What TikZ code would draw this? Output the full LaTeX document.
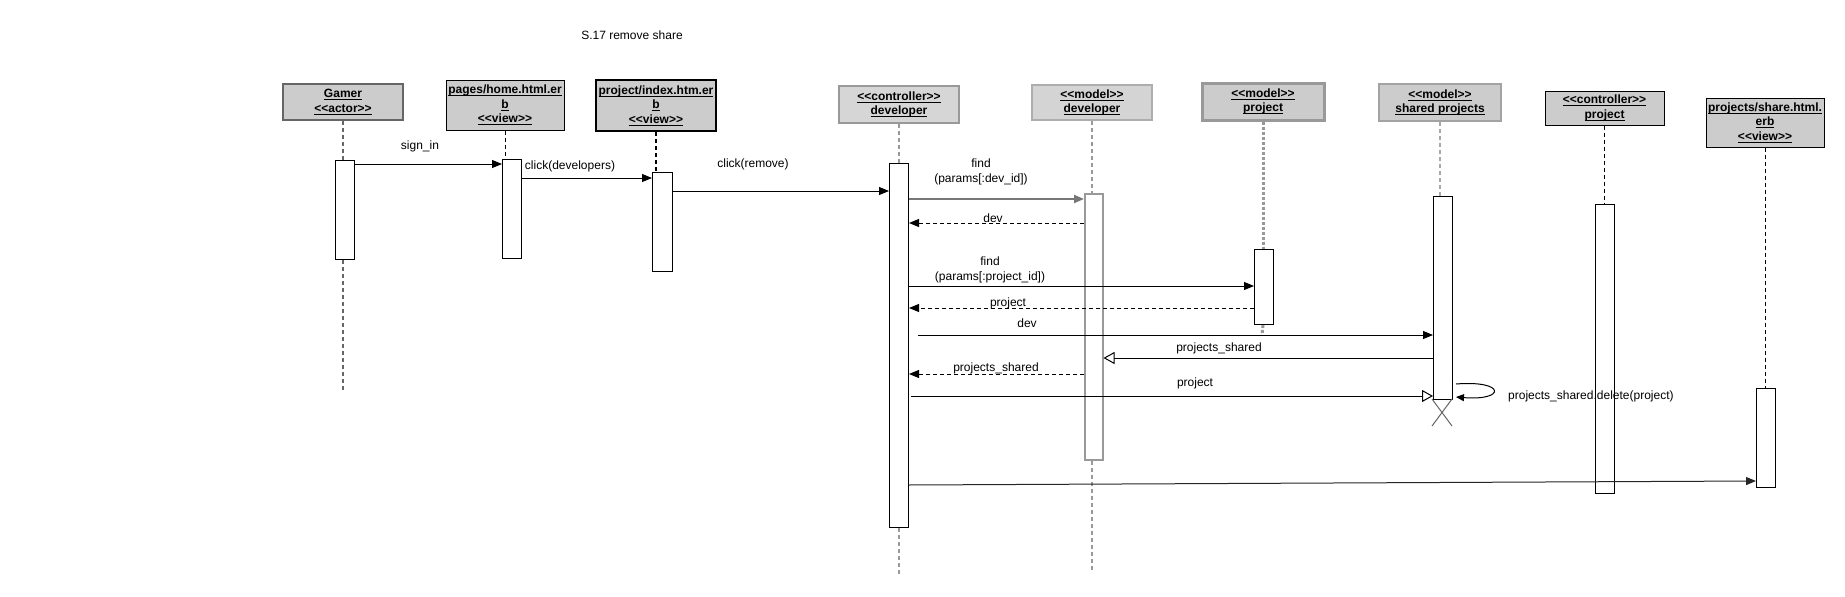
\documentclass[tikz,border=0pt]{standalone}
\usepackage{fontspec}
\setmainfont{Liberation Sans}
\usetikzlibrary{arrows.meta}
\newcommand\ulx[1]{\setbox0\hbox{#1}\rlap{\rule[-2pt]{\wd0}{0.8pt}}\box0}
\newcommand\llg{<\kern0pt<}
\newcommand\rrg{>\kern0pt>}
\definecolor{headgray}{HTML}{CCCCCC}
\definecolor{midgray}{HTML}{999999}
\definecolor{darkgray2}{HTML}{666666}
\definecolor{arrgray}{HTML}{777777}
\begin{document}
\begin{tikzpicture}[x=1pt,y=-1pt,
  every node/.style={font=\fontsize{12}{14.5}\selectfont},
  head/.style={draw, fill=headgray, inner sep=0pt, align=center, font=\fontsize{12}{14.5}\selectfont\bfseries},
  act/.style={draw, fill=white, inner sep=0pt, minimum width=19pt, anchor=north west, line width=1pt},
  life/.style={dash pattern=on 4pt off 3pt, line width=1pt},
  msg/.style={-{Triangle[length=10pt,width=8pt]}, line width=1pt},
  ret/.style={msg, dash pattern=on 4pt off 3pt},
  opn/.style={-{Triangle[open,length=11pt,width=12pt,fill=white]}, line width=1pt},
  lbl/.style={inner sep=1pt}
]
\fill[white] (0,0) rectangle (1845,597);
\useasboundingbox (0,0) rectangle (1845,597);

\node[lbl] (title) at (632,35) {S.17 remove share};

% heads
\node[head, minimum width=120pt, minimum height=36pt, draw=darkgray2, line width=2pt] (gamer) at (343,102) {\ulx{Gamer}\\\ulx{\llg actor\rrg}};
\node[head, minimum width=118pt, minimum height=50pt, line width=1pt] (pages) at (505,105) {\ulx{pages/home.html.er}\\\ulx{b}\\\ulx{\llg view\rrg}};
\node[head, minimum width=120pt, minimum height=51pt, line width=2pt] (projidx) at (656,105.5) {\ulx{project/index.htm.er}\\\ulx{b}\\\ulx{\llg view\rrg}};
\node[head, minimum width=120pt, minimum height=37pt, draw=midgray, fill=headgray!80, line width=1.5pt] (cdev) at (899,104.5) {\ulx{\llg controller\rrg}\\\ulx{developer}};
\node[head, minimum width=120pt, minimum height=35pt, draw=midgray!80, fill=headgray!85, line width=2pt] (mdev) at (1092,102.5) {\ulx{\llg model\rrg}\\\ulx{developer}};
\node[head, minimum width=122pt, minimum height=37pt, draw=midgray, line width=3pt] (mproj) at (1263,101.5) {\ulx{\llg model\rrg}\\\ulx{project}};
\node[head, minimum width=122pt, minimum height=37pt, draw=midgray!90, line width=2pt] (mshared) at (1440,102.5) {\ulx{\llg model\rrg}\\\ulx{shared projects}};
\node[head, minimum width=119pt, minimum height=34pt, line width=1pt] (cproj) at (1604.5,108) {\ulx{\llg controller\rrg}\\\ulx{project}};
\node[head, minimum width=118pt, minimum height=49pt, line width=1pt] (share) at (1765,122.5) {\ulx{projects/share.html.}\\\ulx{erb}\\\ulx{\llg view\rrg}};

% activations
\node[act, minimum height=99pt] (gact) at (335,160) {};
\node[act, minimum height=99pt] (pact) at (502,159) {};
\node[act, minimum width=20pt, minimum height=99pt] (iact) at (652,172) {};
\node[act, minimum height=364pt] (cdact) at (889,163) {};
\node[act, minimum width=18pt, minimum height=266pt, draw=midgray, line width=1.5pt] (mdact) at (1084,193) {};
\node[act, minimum height=75pt] (mpact) at (1254,249) {};
\node[act, minimum height=203pt] (shact) at (1433,196) {};
\node[act, minimum height=289pt] (cpact) at (1595,204) {};
\node[act, minimum height=99pt] (shareact) at (1756,388) {};

% lifelines
\coordinate (gend) at (343,390);
\coordinate (cdend) at (899,574);
\coordinate (mdend) at (1092,572);
\coordinate (mpend) at (1262,335);
\draw[life, draw=darkgray2, line width=2pt] (gamer.south) -- (gamer.south |- gact.north);
\draw[life, draw=darkgray2, line width=2pt] (gamer.south |- gact.south) -- (gend);
\draw[life] (pages.south) -- (pages.south |- pact.north);
\draw[life, line width=2pt] (projidx.south) -- (projidx.south |- iact.north);
\draw[life, draw=midgray, line width=1.5pt] (cdev.south) -- (cdev.south |- cdact.north);
\draw[life, draw=midgray, line width=1.5pt] (cdev.south |- cdact.south) -- (cdend);
\draw[life, draw=midgray, line width=1.5pt] (mdev.south) -- (mdev.south |- mdact.north);
\draw[life, draw=midgray, line width=1.5pt] (mdev.south |- mdact.south) -- (mdend);
\draw[life, draw=midgray, line width=3pt, dash pattern=on 3pt off 2pt] (mproj.south) -- (mproj.south |- mpact.north);
\draw[life, draw=midgray, line width=3pt, dash pattern=on 3pt off 2pt] (mproj.south |- mpact.south) -- (mpend);
\draw[life, draw=midgray!85, line width=2pt] (mshared.south) -- (mshared.south |- shact.north);
\draw[life] (cproj.south) -- (cproj.south |- cpact.north);
\draw[life] (share.south) -- (share.south |- shareact.north);

% messages
\draw[msg] (gact.east |- 0,164) -- (pact.west |- 0,164);
\node[lbl] (l1) at (420,146) {sign\_in};
\draw[msg] (pact.east |- 0,178) -- (iact.west |- 0,178);
\node[lbl] (l2) at (570,166) {click(developers)};
\draw[msg] (iact.east |- 0,191) -- (cdact.west |- 0,191);
\node[lbl] (l3) at (753,164) {click(remove)};
\draw[msg, draw=arrgray, fill=arrgray, line width=2pt] (cdact.east |- 0,199) -- (mdact.west |- 0,199);
\node[lbl, align=center, font=\fontsize{12}{15}\selectfont] (l4) at (981,171.5) {find\\(params[:dev\_id])};
\draw[ret] (mdact.west |- 0,223) -- (cdact.east |- 0,223);
\node[lbl] (l5) at (993,218) {dev};
\draw[msg] (cdact.east |- 0,286) -- (mpact.west |- 0,286);
\node[lbl, align=center, font=\fontsize{12}{15}\selectfont] (l6) at (990,269.5) {find\\(params[:project\_id])};
\draw[ret] (mpact.west |- 0,308) -- (cdact.east |- 0,308);
\node[lbl] (l7) at (1008,303) {project};
\coordinate (devstart) at (918,335);
\draw[msg] (devstart) -- (shact.west |- devstart);
\node[lbl] (l8) at (1027,323) {dev};
\draw[opn] (shact.west |- 0,358) -- (mdact.east |- 0,358);
\node[lbl] (l9) at (1219,348) {projects\_shared};
\draw[ret] (mdact.west |- 0,374) -- (cdact.east |- 0,374);
\node[lbl] (l10) at (996,368) {projects\_shared};
\draw[opn] ([xshift=2pt]cdact.east |- 0,396) -- (shact.west |- 0,396);
\node[lbl] (l11) at (1195,383) {project};
\coordinate (sc1) at (1456,384);
\coordinate (sc2) at (1456,397);
\draw[-{Triangle[length=8pt,width=7pt]}, line width=1pt] (sc1) .. controls (1506,380) and (1506,401) .. (sc2);
\node[lbl, anchor=west] (l12) at (1507,396) {projects\_shared.delete(project)};
\coordinate (xa) at (1432,399);
\coordinate (xb) at (1452,426);
\draw[line width=1pt, draw=darkgray2] (xa) -- (xb) (xa -| xb) -- (xb -| xa);
\draw[msg, draw=black!85] (cdact.east |- 0,485) -- (shareact.west |- 0,481);
\end{tikzpicture}
\end{document}
